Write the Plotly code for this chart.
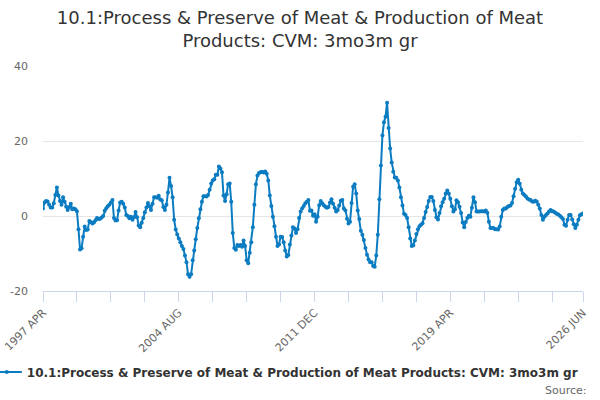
import plotly.graph_objs as go

# monthly 3mo3m growth, 1997 APR .. 2026 JUN
growth_1997_2001 = [
    2.0, 3.6, 4.0, 3.9, 3.0, 2.3, 2.3, 3.4, 5.6, 7.6, 5.5, 4.0,
    3.0, 5.0, 3.8, 2.5, 1.6, 2.4, 3.3, 1.8, 2.0, 1.8, 1.3, -3.5,
    -8.9, -8.6, -5.5, -2.8, -3.7, -3.6, -1.3, -1.6, -2.0, -1.7, -1.1, -0.5,
    -0.8, -0.7, -0.4, 0.0, 1.4, 2.1, 2.6, 3.0, 3.6, 4.3, -0.5, -1.2,
    -1.1, 1.5, 3.6, 3.8, 3.3, 2.3, 0.3, 0.0, -0.6, -0.2, -1.0, -0.3,
]
growth_2002_2006 = [
    1.1, -0.3, -2.5, -3.0, -1.8, -0.5, 1.0, 2.3, 3.5, 2.6, 1.6, 3.3,
    5.0, 5.0, 4.9, 5.4, 4.4, 4.2, 2.4, 1.6, 3.0, 6.3, 10.2, 8.0,
    5.0, -1.0, -3.6, -4.9, -6.0, -7.0, -8.0, -8.8, -10.5, -12.3, -15.5, -16.2,
    -15.5, -11.8, -9.2, -6.2, -3.2, -0.6, 1.8, 3.8, 5.3, 5.3, 5.2, 5.6,
    7.0, 8.7, 9.5, 9.8, 11.0, 11.0, 13.2, 12.7, 11.7, 5.5, 4.0, 5.8,
]
growth_2007_2011 = [
    8.5, 8.7, 3.8, -4.5, -8.5, -9.0, -7.7, -8.0, -7.7, -8.2, -6.5, -8.0,
    -11.8, -12.6, -9.8, -7.0, -3.0, 3.0, 8.5, 10.8, 11.5, 11.7, 11.8, 11.6,
    11.9, 11.3, 9.5, 5.5, 2.7, -0.2, -2.7, -5.5, -8.0, -7.6, -5.5, -5.6,
    -7.0, -9.2, -10.8, -10.4, -7.6, -5.2, -3.0, -3.3, -4.5, -3.5, -0.5, 1.2,
    2.1, 2.7, 3.4, 3.8, 4.3, 1.4, 1.5, 0.1, 0.5, -1.5, -0.2, 2.9,
]
growth_2012_2016 = [
    4.0, 3.4, 2.9, 2.5, 2.2, 2.4, 3.6, 4.5, 3.3, 2.2, 1.2, 1.6,
    2.8, 4.1, 4.3, 2.0, 1.5, -0.7, -2.0, -1.5, 3.5, 7.8, 8.5, 6.0,
    1.5, -0.8, -3.9, -5.0, -6.4, -8.5, -10.3, -11.6, -12.3, -12.3, -13.3, -13.5,
    -10.5, -5.0, 4.5, 13.5, 21.5, 25.0, 26.5, 30.2, 23.5, 18.0, 14.3, 11.8,
    10.3, 10.2, 9.5, 7.6, 5.0, 2.8, 0.6, 0.3, -0.5, -3.0, -6.0, -8.0,
]
growth_2017_2021 = [
    -7.8, -6.5, -4.8, -3.5, -2.7, -2.3, -1.9, -0.5, 1.1, 2.4, 4.0, 5.1,
    5.1, 4.0, 1.6, -0.3, -0.9, 0.8, 2.6, 3.7, 4.6, 6.0, 6.8, 6.0,
    4.6, 2.6, 1.2, 1.8, 4.2, 3.7, 2.5, 0.8, -1.7, -3.0, -1.6, -0.5,
    0.1, -0.2, 2.2, 5.0, 3.7, 1.2, 1.2, 1.2, 1.3, 1.3, 1.2, 1.5,
    0.9, -1.5, -3.2, -3.2, -3.2, -3.5, -3.5, -3.6, -2.8, -0.2, 1.6, 2.0,
]
growth_2022_2026 = [
    2.0, 2.4, 2.7, 2.8, 3.5, 5.3, 7.3, 9.0, 9.7, 8.6, 7.0, 6.0,
    5.6, 5.2, 4.7, 4.4, 4.3, 3.9, 3.8, 4.1, 3.9, 3.0, 2.0, 0.3,
    -1.0, -0.2, 0.3, 0.7, 1.2, 1.6, 1.3, 1.2, 0.9, 0.6, 0.4, 0.1,
    -0.3, -0.8, -2.3, -2.6, -1.0, 0.3, 0.3, -0.9, -2.2, -3.2, -2.3, -1.0,
    0.2, 0.5, 0.7,
]

series_name = "10.1:Process & Preserve of Meat & Production of Meat Products: CVM: 3mo3m gr"
tick_labels = ["1997 APR", "2004 AUG", "2011 DEC", "2019 APR", "2026 JUN"]
month_names = ["JAN", "FEB", "MAR", "APR", "MAY", "JUN",
               "JUL", "AUG", "SEP", "OCT", "NOV", "DEC"]
y_ticks = [-20, 0, 20, 40]

values = (growth_1997_2001 + growth_2002_2006 + growth_2007_2011
          + growth_2012_2016 + growth_2017_2021 + growth_2022_2026)

# category labels, one per month from 1997 APR
months = []
for k in range(len(values)):
    m = 3 + k
    months.append("%d %s" % (1997 + m // 12, month_names[m % 12]))

idx = list(range(len(values)))
last = len(values) - 1
tickvals = list(range(0, last, 22)) + [last]
ticktext = [months[t] if months[t] in tick_labels else "" for t in tickvals]

blue = "#0b7cc1"

fig = go.Figure()
fig.add_trace(go.Scatter(
    x=idx, y=values, mode="lines+markers", name=series_name,
    text=months, hovertemplate="%{text}: %{y}<extra></extra>",
    line=dict(color=blue, width=2),
    marker=dict(color=blue, size=4),
))

fig.update_layout(
    width=600, height=400,
    margin=dict(l=43, r=17, t=66, b=109, autoexpand=False),
    paper_bgcolor="white", plot_bgcolor="white",
    font=dict(family="DejaVu Sans", color="#666666", size=11),
    title=dict(
        text="10.1:Process & Preserve of Meat & Production of Meat<br>Products: CVM: 3mo3m gr",
        x=0.5, xanchor="center", y=0.94, yanchor="top",
        font=dict(family="DejaVu Sans", size=18, color="#333333"),
    ),
    showlegend=True,
    legend=dict(
        orientation="h", x=-0.104, xanchor="left", y=-0.36, yanchor="middle",
        font=dict(family="DejaVu Sans", size=12, color="#333333", weight="bold"),
        itemwidth=30, bgcolor="rgba(0,0,0,0)",
    ),
    annotations=[dict(
        text="Source:", xref="paper", yref="paper", x=1.011, y=-0.44,
        xanchor="right", yanchor="middle", showarrow=False,
        font=dict(family="DejaVu Sans", size=11, color="#666666"),
    )],
)

fig.update_xaxes(
    range=[0, last], tickmode="array", tickvals=tickvals, ticktext=ticktext,
    tickangle=-45, ticks="outside", ticklen=10, tickcolor="#ccd6eb",
    showline=True, linecolor="#ccd6eb", linewidth=1,
    showgrid=False, zeroline=False, automargin=False,
    tickfont=dict(size=11, color="#666666"),
)
fig.update_yaxes(
    range=[-20, 40], tickmode="array", tickvals=y_ticks,
    ticktext=[str(v) for v in y_ticks], ticklabelstandoff=14,
    showgrid=True, gridcolor="#e6e6e6", zeroline=False, automargin=False,
    ticks="", tickfont=dict(size=11, color="#666666"),
)

fig.write_html("out.html", config={"displayModeBar": False},
               post_script="document.body.style.margin='0';")
